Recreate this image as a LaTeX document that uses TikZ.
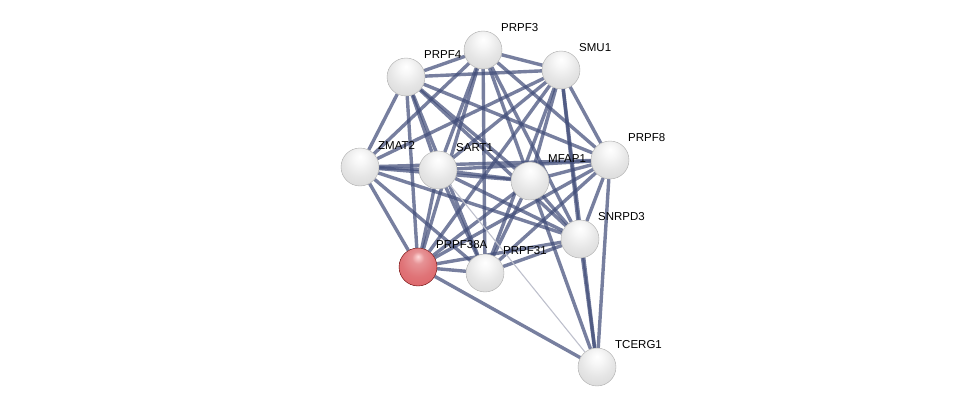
\documentclass[tikz,border=0pt]{standalone}
\usepackage{fontspec}
\setmainfont{Liberation Sans}
\usepackage{tikz}
\usetikzlibrary{backgrounds}
\definecolor{edgeblue}{RGB}{66,78,122}
\definecolor{weakgray}{RGB}{190,192,204}
\definecolor{hitred}{RGB}{220,100,104}
\pgfdeclareradialshading{sphere}{\pgfpoint{0bp}{14bp}}{color(0bp)=(white);
    color(8bp)=(gray!6); color(22bp)=(gray!20); color(36bp)=(gray!30);
    color(50bp)=(gray!40); color(64bp)=(gray!58)}
\pgfdeclareradialshading{redsphere}{\pgfpoint{0bp}{14bp}}{color(0bp)=(red!15!white);
    color(8bp)=(hitred!70!white); color(22bp)=(hitred!90!white); color(36bp)=(hitred);
    color(50bp)=(hitred!85!black); color(64bp)=(red!45!black)}

\begin{document}
\begin{tikzpicture}[x=1pt, y=-1pt,
    prot/.style={circle, minimum size=38pt, inner sep=0pt, shading=sphere,
        draw=gray!65, line width=0.4pt},
    query/.style={prot, shading=redsphere, draw=red!40!black},
    lbl/.style={anchor=west, inner sep=0pt, font=\fontsize{11.5}{13}\selectfont},
    edge/.style={draw=edgeblue, line width=3.4pt, opacity=0.72},
    weak/.style={draw=weakgray, line width=1.1pt}]
    \useasboundingbox (0,0) rectangle (976,412);
    % --- proteins ---
    \foreach \n/\x/\y/\t in {prpfiii/483/50/PRPF3, smu/561/70/SMU1, prpfiv/406/77/PRPF4,
        prpfviii/610/160/PRPF8, zmat/360/167/ZMAT2, sart/438/170/SART1,
        mfap/530/181/MFAP1, snrpd/580/239/SNRPD3, prpfxxxi/485/273/PRPF31,
        tcerg/597/367/TCERG1} {
        \node[prot] (\n) at (\x,\y) {};
        \node[lbl] (\n-lbl) at (\x+18,\y-22) {\t};
    }
    % query protein
    \node[query] (prpfxxxviii) at (418,267) {};
    \node[lbl] (prpfxxxviii-lbl) at (436,245) {PRPF38A};

    % --- interactions ---
    \begin{pgfonlayer}{background}
        \foreach \a/\b in {prpfiii/smu, prpfiii/prpfiv, prpfiii/prpfviii, prpfiii/zmat,
            prpfiii/sart, prpfiii/mfap, prpfiii/snrpd, prpfiii/prpfxxxviii, prpfiii/prpfxxxi,
            smu/prpfiv, smu/prpfviii, smu/zmat, smu/sart, smu/mfap, smu/snrpd,
            smu/prpfxxxviii, smu/prpfxxxi, smu/tcerg,
            prpfiv/prpfviii, prpfiv/zmat, prpfiv/sart, prpfiv/mfap, prpfiv/snrpd,
            prpfiv/prpfxxxviii, prpfiv/prpfxxxi,
            prpfviii/zmat, prpfviii/sart, prpfviii/mfap, prpfviii/snrpd,
            prpfviii/prpfxxxviii, prpfviii/prpfxxxi, prpfviii/tcerg,
            zmat/sart, zmat/mfap, zmat/snrpd, zmat/prpfxxxviii, zmat/prpfxxxi,
            sart/mfap, sart/snrpd, sart/prpfxxxviii, sart/prpfxxxi,
            mfap/snrpd, mfap/prpfxxxviii, mfap/prpfxxxi, mfap/tcerg,
            snrpd/prpfxxxviii, snrpd/prpfxxxi, snrpd/tcerg,
            prpfxxxviii/prpfxxxi, prpfxxxviii/tcerg}
            \draw[edge] (\a) -- (\b);
        \draw[weak] (sart) -- (tcerg);
    \end{pgfonlayer}
\end{tikzpicture}
\end{document}
